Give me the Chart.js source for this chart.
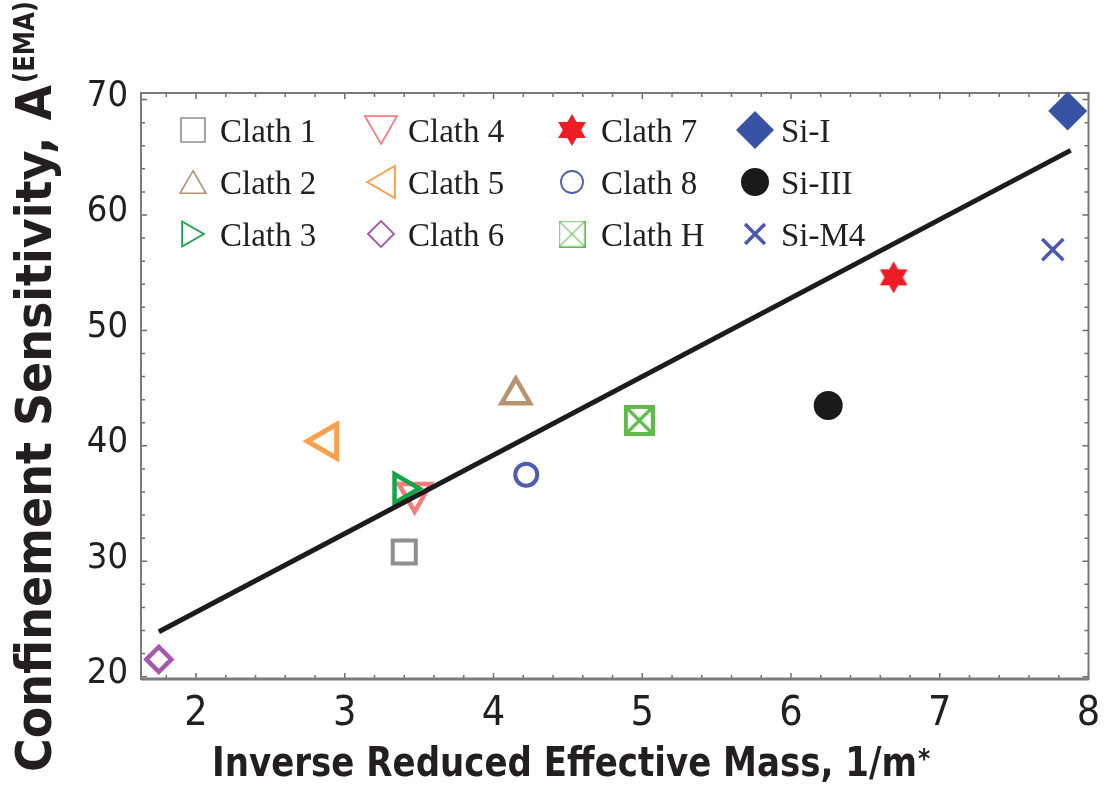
<!DOCTYPE html>
<html>
<head>
<meta charset="utf-8">
<script src="https://cdn.jsdelivr.net/npm/chart.js@4.4.1/dist/chart.umd.min.js"></script>
<style>
  html, body { margin: 0; padding: 0; background: #ffffff; }
  #wrap { width: 1113px; height: 787px; }
</style>
</head>
<body>
<div id="wrap"><canvas id="chart" width="1113" height="787"></canvas></div>
<script>
// ---- data ----
const seriesNames = ['Clath 1', 'Clath 2', 'Clath 3', 'Clath 4', 'Clath 5', 'Clath 6',
                     'Clath 7', 'Clath 8', 'Clath H', 'Si-I', 'Si-III', 'Si-M4'];
const inverseMass = [3.40, 4.15, 3.39, 3.47, 2.88, 1.75, 6.69, 4.22, 4.98, 7.86, 6.25, 7.76];
const sensitivity = [30.8, 44.4, 36.3, 35.9, 40.4, 21.5, 54.6, 37.5, 42.2, 69.0, 43.5, 57.0];
const fitX = [1.75, 7.88];
const fitY = [23.9, 65.6];
const xTickValues = [2, 3, 4, 5, 6, 7, 8];
const yTickValues = [20, 30, 40, 50, 60, 70];

// ---- custom marker images ----
function hexagram(R, color) {
  const s = Math.ceil(2 * R + 2);
  const c = document.createElement('canvas');
  c.width = s; c.height = s;
  const g = c.getContext('2d');
  g.fillStyle = color;
  [-90, 90].forEach(start => {
    g.beginPath();
    for (let k = 0; k < 3; k++) {
      const a = (start + k * 120) * Math.PI / 180;
      const px = s / 2 + R * Math.cos(a), py = s / 2 + R * Math.sin(a);
      if (k) g.lineTo(px, py); else g.moveTo(px, py);
    }
    g.closePath();
    g.fill();
  });
  return c;
}
function boxedCross(side, lw, color) {
  const s = Math.ceil(side);
  const c = document.createElement('canvas');
  c.width = s; c.height = s;
  const g = c.getContext('2d');
  g.strokeStyle = color;
  g.lineWidth = lw;
  g.strokeRect(lw / 2, lw / 2, s - lw, s - lw);
  g.lineWidth = Math.max(1, lw * 0.8);
  g.beginPath();
  g.moveTo(lw, lw); g.lineTo(s - lw, s - lw);
  g.moveTo(s - lw, lw); g.lineTo(lw, s - lw);
  g.stroke();
  return c;
}

// ---- marker appearance per series ----
const markerStyles = [
  { color: '#8e8e90', style: 'rect', rotation: 0, radius: 16.3, width: 4, legendRadius: 17, legendWidth: 1.6 },
  { color: '#b6946f', style: 'triangle', rotation: 0, radius: 16.5, width: 4.5, legendRadius: 15, legendWidth: 1.6 },
  { color: '#16a34a', style: 'triangle', rotation: 90, radius: 16.5, width: 4.5, legendRadius: 14.5, legendWidth: 1.8 },
  { color: '#f27c7f', style: 'triangle', rotation: 180, radius: 18.5, width: 4.5, legendRadius: 18.5, legendWidth: 1.8 },
  { color: '#f9a14d', style: 'triangle', rotation: 270, radius: 19.5, width: 5, legendRadius: 18.5, legendWidth: 2 },
  { color: '#a657aa', style: 'rectRot', rotation: 0, radius: 12.5, width: 4.5, legendRadius: 13, legendWidth: 1.8 },
  { color: '#ee1d25', fill: true, style: 'hexagram', rotation: 0, radius: 16, width: 0, legendRadius: 16, legendWidth: 0 },
  { color: '#4f5bab', style: 'circle', rotation: 0, radius: 11, width: 4, legendRadius: 11, legendWidth: 1.8 },
  { color: '#5fbc4a', style: 'boxX', rotation: 0, radius: 15.5, width: 4, legendRadius: 13.5, legendWidth: 1.3 },
  { color: '#3853a4', fill: true, style: 'rectRot', rotation: 0, radius: 19.5, width: 0, legendRadius: 19, legendWidth: 0 },
  { color: '#1a1a1a', fill: true, style: 'circle', rotation: 0, radius: 14.5, width: 0, legendRadius: 14, legendWidth: 0 },
  { color: '#4b58ad', style: 'crossRot', rotation: 0, radius: 15, width: 3.5, legendRadius: 14, legendWidth: 3.5 }
];
markerStyles.forEach(st => {
  if (st.style === 'hexagram') {
    st.plotStyle = hexagram(st.radius, st.color);
    st.legendStyle = hexagram(st.legendRadius, st.color);
  } else if (st.style === 'boxX') {
    st.plotStyle = boxedCross(2 * st.radius, st.width, st.color);
    st.legendStyle = boxedCross(2 * st.legendRadius, st.legendWidth, st.color);
  } else {
    st.plotStyle = st.style;
    st.legendStyle = st.style;
  }
});

const datasets = seriesNames.map((name, i) => {
  const st = markerStyles[i];
  return {
    label: name,
    data: [{ x: inverseMass[i], y: sensitivity[i] }],
    pointStyle: st.plotStyle,
    pointRotation: st.rotation,
    pointRadius: st.radius,
    pointBorderWidth: st.width,
    pointBorderColor: st.color,
    pointBackgroundColor: st.fill ? st.color : 'rgba(0,0,0,0)',
    showLine: false,
    clip: false,
    order: 1
  };
});
datasets.push({
  label: 'Linear fit',
  data: fitX.map((x, i) => ({ x: x, y: fitY[i] })),
  showLine: true,
  borderColor: '#1c1c1c',
  borderWidth: 5,
  borderCapStyle: 'butt',
  pointRadius: 0,
  fill: false,
  clip: false,
  order: 0
});

// ---- framed box with inward ticks on all four sides ----
const framePlugin = {
  id: 'frameBox',
  beforeDatasetsDraw(chart) {
    const { ctx, chartArea: a, scales } = chart;
    const xs = scales.x, ys = scales.y;
    ctx.save();
    ctx.strokeStyle = '#6e6e6e';
    ctx.lineWidth = 1.5;
    ctx.beginPath();
    for (let k = 9; k <= 40; k++) {
      const v = k * 0.2;
      const len = (k % 5 === 0) ? 6 : 4;
      const p = xs.getPixelForValue(v);
      ctx.moveTo(p, a.bottom); ctx.lineTo(p, a.bottom - len);
      ctx.moveTo(p, a.top); ctx.lineTo(p, a.top + len);
    }
    for (let v = 20; v <= 70; v += 2) {
      const len = (v % 10 === 0) ? 6 : 4;
      const p = ys.getPixelForValue(v);
      ctx.moveTo(a.left, p); ctx.lineTo(a.left + len, p);
      ctx.moveTo(a.right, p); ctx.lineTo(a.right - len, p);
    }
    ctx.stroke();
    ctx.strokeStyle = '#7b7b7b';
    ctx.lineWidth = 2;
    ctx.strokeRect(a.left, a.top, a.right - a.left, a.bottom - a.top);
    ctx.lineWidth = 3;
    ctx.beginPath();
    ctx.moveTo(a.left, a.bottom); ctx.lineTo(a.right, a.bottom);
    ctx.stroke();
    ctx.restore();
  }
};

// ---- legend laid out as a 3-row grid inside the plot ----
const legendGrid = {
  columns: [{ mx: 193, tx: 220 }, { mx: 381, tx: 408 }, { mx: 572, tx: 601 }, { mx: 755, tx: 781 }],
  rows: [130, 182, 234],
  textDy: 12
};
const gridLegend = {
  id: 'gridLegend',
  afterDatasetsDraw(chart) {
    const ctx = chart.ctx;
    seriesNames.forEach((name, i) => {
      const col = legendGrid.columns[Math.floor(i / 3)];
      const cy = legendGrid.rows[i % 3];
      const st = markerStyles[i];
      let mx = col.mx, my = cy;
      if (st.style === 'triangle') {
        const a = st.rotation * Math.PI / 180;
        mx -= Math.sin(a) * st.legendRadius / 4;
        my += Math.cos(a) * st.legendRadius / 4;
      }
      ctx.save();
      ctx.fillStyle = st.fill ? st.color : 'rgba(0,0,0,0)';
      ctx.strokeStyle = st.color;
      ctx.lineWidth = st.legendWidth;
      Chart.helpers.drawPoint(ctx, {
        pointStyle: st.legendStyle,
        rotation: st.rotation,
        radius: st.legendRadius,
        borderWidth: st.legendWidth
      }, mx, my);
      ctx.restore();
      ctx.save();
      ctx.fillStyle = '#231f20';
      ctx.font = '33px "Liberation Serif", "DejaVu Serif", serif';
      ctx.textAlign = 'left';
      ctx.textBaseline = 'alphabetic';
      ctx.fillText(name, col.tx, cy + legendGrid.textDy);
      ctx.restore();
    });
  }
};

// ---- axis titles with superscripts ----
const axisTitles = {
  id: 'axisTitles',
  afterDraw(chart) {
    const ctx = chart.ctx;
    const cond = '"DejaVu Sans Condensed", "DejaVu Sans", sans-serif';
    const wide = '"DejaVu Sans", sans-serif';
    ctx.save();
    ctx.fillStyle = '#231f20';
    ctx.textAlign = 'left';
    ctx.textBaseline = 'alphabetic';
    ctx.font = 'bold 40px ' + cond;
    const xMain = 'Inverse Reduced Effective Mass, 1/m';
    const xw = Math.min(ctx.measureText(xMain).width, 705);
    ctx.fillText(xMain, 212, 776, 705);
    ctx.font = 'bold 26px ' + cond;
    ctx.fillText('*', 212 + xw + 1, 768);

    ctx.translate(51, 772);
    ctx.rotate(-Math.PI / 2);
    ctx.font = 'bold 49px ' + wide;
    const yMain = 'Confinement Sensitivity, A';
    const yw = Math.min(ctx.measureText(yMain).width, 687);
    ctx.fillText(yMain, 0, 0, 687);
    ctx.font = 'bold 28px ' + wide;
    ctx.fillText('(EMA)', yw + 2, -16.6, 82);
    ctx.restore();
  }
};

new Chart(document.getElementById('chart'), {
  type: 'scatter',
  data: { datasets: datasets },
  options: {
    responsive: false,
    animation: false,
    devicePixelRatio: 1,
    events: [],
    layout: { padding: { top: 93, right: 22, left: 0, bottom: 0 } },
    plugins: { legend: { display: false }, tooltip: { enabled: false } },
    scales: {
      x: {
        type: 'linear',
        min: 1.63,
        max: 8.0,
        grid: { display: false, drawTicks: false },
        border: { display: false },
        afterBuildTicks: s => { s.ticks = xTickValues.map(v => ({ value: v })); },
        afterFit: s => { s.height = 108; },
        ticks: {
          color: '#231f20',
          padding: 11,
          maxRotation: 0,
          font: { family: '"DejaVu Sans Condensed", "DejaVu Sans", sans-serif', size: 41 },
          callback: v => String(v)
        }
      },
      y: {
        type: 'linear',
        min: 19.8,
        max: 70.57,
        grid: { display: false, drawTicks: false },
        border: { display: false },
        afterBuildTicks: s => { s.ticks = yTickValues.map(v => ({ value: v })); },
        afterFit: s => { s.width = 141; },
        ticks: {
          color: '#231f20',
          padding: 13,
          labelOffset: -3,
          font: { family: '"DejaVu Sans Condensed", "DejaVu Sans", sans-serif', size: 36 },
          callback: v => String(v)
        }
      }
    }
  },
  plugins: [framePlugin, gridLegend, axisTitles]
});
</script>
</body>
</html>
